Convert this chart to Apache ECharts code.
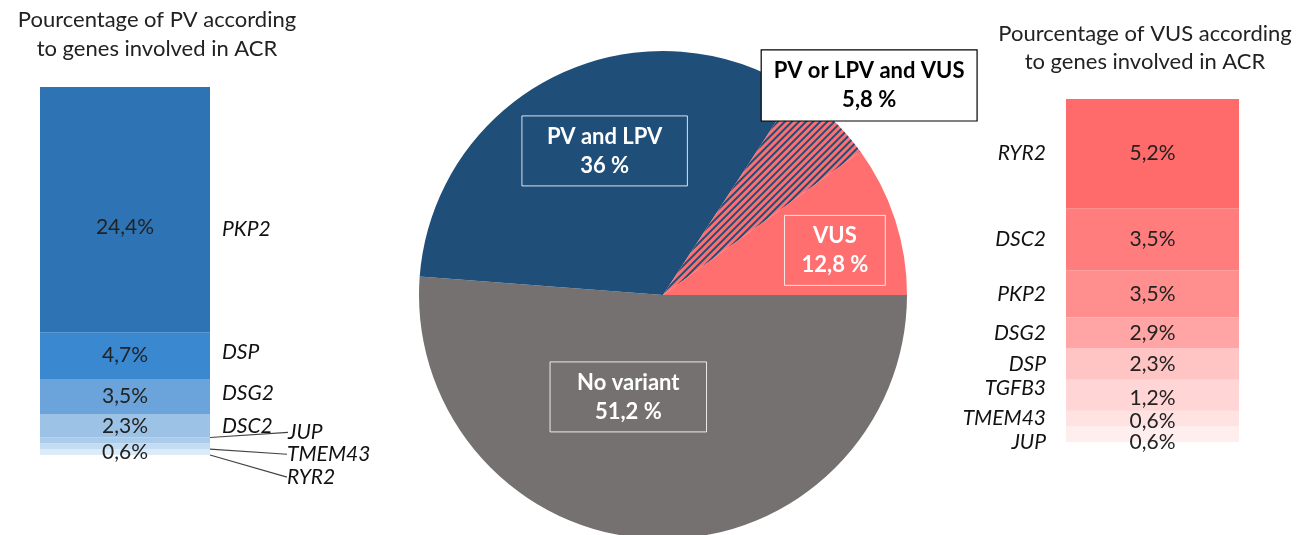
<!DOCTYPE html>
<html>
<head>
<meta charset="utf-8">
<script src="https://cdn.jsdelivr.net/npm/echarts@6/dist/echarts.min.js"></script>
<style>
  html, body { margin: 0; padding: 0; background: #fff; }
  #main { width: 1302px; height: 535px; }
</style>
</head>
<body>
<div id="main"></div>
<script>
// left bar: PV genes, bottom -> top (segment heights read as patient counts)
const pvGenes = ['RYR2', 'TMEM43', 'JUP', 'DSC2', 'DSG2', 'DSP', 'PKP2']
const pvCounts = [1, 1, 1, 4, 6, 8, 42]
const pvPercent = ['0,6%', '', '', '2,3%', '3,5%', '4,7%', '24,4%']
const pvColors = ['#DCEBF8', '#C4DCF1', '#ABCBEA', '#9CC3E6', '#6BA4DA', '#3A88D0', '#2E74B5']

// right bar: VUS genes, bottom -> top
const vusGenes = ['JUP', 'TMEM43', 'TGFB3', 'DSP', 'DSG2', 'PKP2', 'DSC2', 'RYR2']
const vusCounts = [1, 1, 2, 2, 2, 3, 4, 7]
const vusPercent = ['0,6%', '0,6%', '1,2%', '2,3%', '2,9%', '3,5%', '3,5%', '5,2%']
const vusColors = ['#FFEEEE', '#FFE3E3', '#FFD5D5', '#FFC4C4', '#FFA5A5', '#FF8E8E', '#FF7D7D', '#FF6B6B']

// pie: sizes of the drawn slices, and the texts shown on them
const pieNames = ['No variant', 'PV and LPV', 'PV or LPV and VUS', 'VUS']
const pieValues = [51.2, 33.0, 5.8, 10.0]
const pieShown = ['51,2 %', '36 %', '5,8 %', '12,8 %']

const FONT = 'Lato'
const blueDark = '#1F4E79'

// label nudges (pixels)
const pieLabelShift = [[-30, -23], [-3, -32], [120, -119], [53, -6]]
const pieLabelPad = [[6, 27], [6, 25], [6, 12], [6, 17]]
const pvNameShift = { JUP: [66, -8], TMEM43: [65, 8], RYR2: [65, 25] }
const pvNameOffset = { PKP2: [0, 20], DSP: [0, -3], DSG2: [0, -3] }
const pvPctOffset = { PKP2: [0, 18] }
const vusPctOffset = { TGFB3: [0, 3], TMEM43: [0, 3], JUP: [0, 8] }
const vusNameOffset = { TGFB3: [0, -7], JUP: [0, 8] }

const chart = echarts.init(document.getElementById('main'))

const series = []

pvGenes.forEach((g, i) => {
  series.push({
    type: 'bar', stack: 'pv', xAxisIndex: 0, yAxisIndex: 0, barWidth: '100%',
    silent: true,
    data: [pvCounts[i]],
    itemStyle: { color: pvColors[i] },
    label: {
      show: pvPercent[i] !== '', position: 'inside', formatter: pvPercent[i],
      color: '#222', fontFamily: FONT, fontSize: 21,
      offset: pvPctOffset[g] || [0, 0]
    }
  })
})
pvGenes.forEach((g, i) => {
  const shifted = !!pvNameShift[g]
  series.push({
    type: 'bar', stack: 'pvName', xAxisIndex: 1, yAxisIndex: 0, barWidth: '100%',
    silent: true,
    data: [pvCounts[i]],
    itemStyle: { color: 'rgba(0,0,0,0)' },
    label: {
      show: true, position: 'right', distance: 12, formatter: g,
      color: '#111', fontFamily: FONT, fontSize: 21, fontStyle: 'italic',
      offset: pvNameOffset[g] || [0, 0]
    },
    labelLine: { show: shifted, lineStyle: { color: '#444', width: 1.2 } },
    labelLayout: shifted ? { dx: pvNameShift[g][0], dy: pvNameShift[g][1] } : null
  })
})

vusGenes.forEach((g, i) => {
  series.push({
    type: 'bar', stack: 'vus', xAxisIndex: 2, yAxisIndex: 1, barWidth: '100%',
    silent: true,
    data: [vusCounts[i]],
    itemStyle: { color: vusColors[i] },
    label: {
      show: true, position: 'inside', formatter: vusPercent[i],
      color: '#222', fontFamily: FONT, fontSize: 21,
      offset: vusPctOffset[g] || [0, 0]
    }
  })
})
vusGenes.forEach((g, i) => {
  series.push({
    type: 'bar', stack: 'vusName', xAxisIndex: 3, yAxisIndex: 1, barWidth: '100%',
    silent: true,
    data: [vusCounts[i]],
    itemStyle: { color: 'rgba(0,0,0,0)' },
    label: {
      show: true, position: 'left', distance: 20, formatter: g,
      color: '#111', fontFamily: FONT, fontSize: 21, fontStyle: 'italic',
      offset: vusNameOffset[g] || [0, 0]
    }
  })
})

const pieColors = ['#767171', blueDark, '#FF6F6F', '#FF6F6F']
series.push({
  type: 'pie',
  center: [663, 295],
  radius: 244,
  startAngle: 0,
  clockwise: true,
  avoidLabelOverlap: false,
  silent: true,
  itemStyle: { borderWidth: 0 },
  labelLine: { show: false },
  data: pieNames.map((n, i) => ({
    name: n,
    value: pieValues[i],
    itemStyle: i === 2 ? {
      color: pieColors[i],
      decal: {
        symbol: 'rect', symbolSize: 1, color: blueDark,
        dashArrayX: [1, 0], dashArrayY: [2, 3], rotation: -Math.PI / 4
      }
    } : { color: pieColors[i] },
    label: i === 2 ? {
      color: '#000', backgroundColor: '#fff', borderColor: '#000', borderWidth: 1.2,
      padding: pieLabelPad[i]
    } : {
      color: '#fff', borderColor: 'rgba(255,255,255,0.85)', borderWidth: 1,
      padding: pieLabelPad[i]
    }
  })),
  label: {
    show: true, position: 'inside',
    fontFamily: FONT, fontSize: 22, fontWeight: 'bold', lineHeight: 29,
    formatter: p => p.name + '\n' + pieShown[p.dataIndex]
  },
  labelLayout: p => ({ dx: pieLabelShift[p.dataIndex][0], dy: pieLabelShift[p.dataIndex][1] })
})

chart.setOption({
  animation: false,
  title: [
    {
      text: 'Pourcentage of PV according\nto genes involved in ACR',
      left: 152, top: 0, textAlign: 'center',
      textStyle: { fontFamily: FONT, fontSize: 22, fontWeight: 'normal', color: '#222', lineHeight: 29 }
    },
    {
      text: 'Pourcentage of VUS according\nto genes involved in ACR',
      left: 1140, top: 15, textAlign: 'center',
      textStyle: { fontFamily: FONT, fontSize: 22, fontWeight: 'normal', color: '#222', lineHeight: 28 }
    }
  ],
  grid: [
    { left: 40, top: 87, width: 170, height: 368 },
    { left: 1066, top: 99, width: 173, height: 343 }
  ],
  xAxis: [
    { type: 'category', gridIndex: 0, data: ['PV'], show: false },
    { type: 'category', gridIndex: 0, data: ['PV'], show: false },
    { type: 'category', gridIndex: 1, data: ['VUS'], show: false },
    { type: 'category', gridIndex: 1, data: ['VUS'], show: false }
  ],
  yAxis: [
    { type: 'value', gridIndex: 0, min: 0, max: 63, show: false },
    { type: 'value', gridIndex: 1, min: 0, max: 22, show: false }
  ],
  series: series
})
</script>
</body>
</html>
